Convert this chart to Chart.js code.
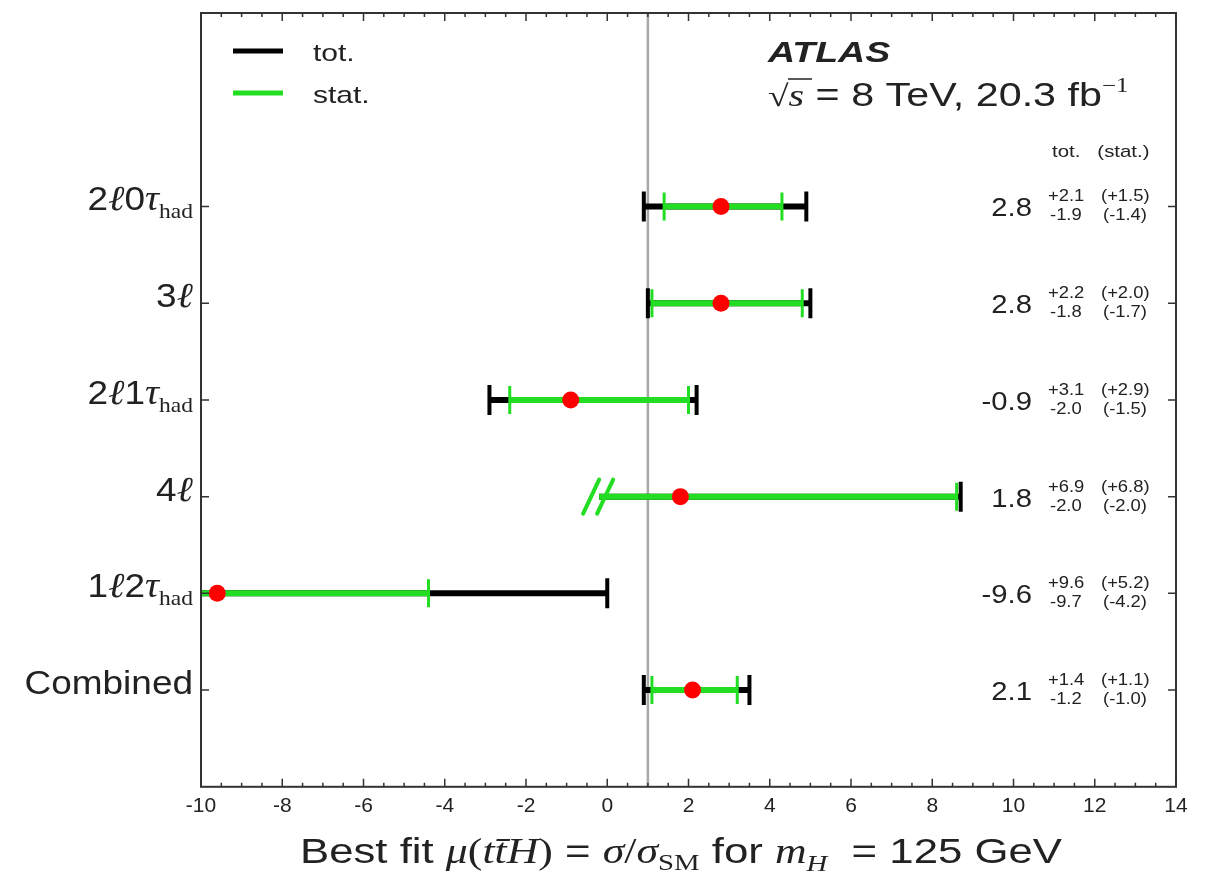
<!DOCTYPE html>
<html>
<head>
<meta charset="utf-8">
<script src="https://cdn.jsdelivr.net/npm/chart.js@4.4.0/dist/chart.umd.min.js"></script>
<style>
  html,body{margin:0;padding:0;background:#fff;}
</style>
</head>
<body>
<canvas id="c" width="1208" height="878"></canvas>
<script>
// --- data ---
const channels  = ['2l0tau', '3l', '2l1tau', '4l', '1l2tau', 'Combined'];
const central   = [2.8, 2.8, -0.9, 1.8, -9.6, 2.1];
const totUp     = [2.1, 2.2, 3.1, 6.9, 9.6, 1.4];
const totDn     = [1.9, 1.8, 2.0, 2.0, 9.7, 1.2];
const statUp    = [1.5, 2.0, 2.9, 6.8, 5.2, 1.1];
const statDn    = [1.4, 1.7, 1.5, 2.0, 4.2, 1.0];
const brokenLow = [false, false, false, true, false, false];
const rowPos    = [5, 4, 3, 2, 1, 0];
const smLine    = 1;

// --- styling ---
const GREEN = '#22dd22';
const SANS = 'Liberation Sans';
const SERIF = 'Liberation Serif';
const SX = 1.25; // the figure's text is stretched horizontally

// labels (rich text pieces: text, font, dy)
const F = 33;
const rowLabels = [
  [['2', `${F}px ${SANS}`], ['ℓ', `italic ${F+2}px ${SERIF}`], ['0', `${F}px ${SANS}`], ['τ', `italic ${F+2}px ${SERIF}`], ['had', `21px ${SERIF}`, 8]],
  [['3', `${F}px ${SANS}`], ['ℓ', `italic ${F+2}px ${SERIF}`]],
  [['2', `${F}px ${SANS}`], ['ℓ', `italic ${F+2}px ${SERIF}`], ['1', `${F}px ${SANS}`], ['τ', `italic ${F+2}px ${SERIF}`], ['had', `21px ${SERIF}`, 8]],
  [['4', `${F}px ${SANS}`], ['ℓ', `italic ${F+2}px ${SERIF}`]],
  [['1', `${F}px ${SANS}`], ['ℓ', `italic ${F+2}px ${SERIF}`], ['2', `${F}px ${SANS}`], ['τ', `italic ${F+2}px ${SERIF}`], ['had', `21px ${SERIF}`, 8]],
  [['Combined', `${F}px ${SANS}`]]
];

function richText(ctx, segs, x, y, align, sx){
  ctx.save();
  ctx.translate(x, y);
  ctx.scale(sx || 1, 1);
  ctx.textBaseline = 'alphabetic';
  ctx.textAlign = 'left';
  let w = 0;
  segs.forEach(s=>{ ctx.font = s[1]; w += ctx.measureText(s[0]).width; });
  let cx = align==='right' ? -w : (align==='center' ? -w/2 : 0);
  segs.forEach(s=>{
    ctx.font = s[1];
    ctx.fillText(s[0], cx, s[2] || 0);
    cx += ctx.measureText(s[0]).width;
  });
  ctx.restore();
}

function fmt(v){ return v.toFixed(1); }

const figPlugin = {
  id: 'fig',
  beforeDatasetsDraw(chart){
    const {ctx, chartArea:a, scales:{x, y}} = chart;
    ctx.save();
    // SM reference line
    const xs = x.getPixelForValue(smLine);
    ctx.strokeStyle = '#a8a8a8';
    ctx.lineWidth = 2.5;
    ctx.beginPath(); ctx.moveTo(xs, a.top); ctx.lineTo(xs, a.bottom); ctx.stroke();

    ctx.beginPath(); ctx.rect(a.left, a.top, a.right-a.left, a.bottom-a.top); ctx.clip();
    central.forEach((c, i)=>{
      const py = y.getPixelForValue(rowPos[i]);
      const tl = x.getPixelForValue(c - totDn[i]), tr = x.getPixelForValue(c + totUp[i]);
      const sl = x.getPixelForValue(c - statDn[i]), sr = x.getPixelForValue(c + statUp[i]);
      ctx.lineCap = 'butt';
      // total
      ctx.strokeStyle = '#000'; ctx.lineWidth = 6;
      ctx.beginPath(); ctx.moveTo(tl, py); ctx.lineTo(tr, py); ctx.stroke();
      // stat
      ctx.strokeStyle = GREEN; ctx.lineWidth = 6;
      ctx.beginPath(); ctx.moveTo(sl, py); ctx.lineTo(sr, py); ctx.stroke();
      // caps
      const cap = (px, col, w, h)=>{
        ctx.strokeStyle = col; ctx.lineWidth = w;
        ctx.beginPath(); ctx.moveTo(px, py-h); ctx.lineTo(px, py+h); ctx.stroke();
      };
      if(!brokenLow[i]){ cap(tl, '#000', 4, 15); }
      cap(tr, '#000', 4, 15);
      if(!brokenLow[i]){ cap(sl, GREEN, 3, 14); }
      cap(sr, GREEN, 3, 14);
      if(brokenLow[i]){
        ctx.strokeStyle = GREEN; ctx.lineWidth = 4; ctx.lineCap = 'round';
        [-8, 6].forEach(o=>{
          ctx.beginPath(); ctx.moveTo(sl+o-8, py+17); ctx.lineTo(sl+o+8, py-17); ctx.stroke();
        });
      }
    });
    ctx.restore();
  },
  afterDraw(chart){
    const {ctx, chartArea:a, scales:{x, y}} = chart;
    ctx.save();
    // frame
    ctx.strokeStyle = '#333'; ctx.lineWidth = 2;
    ctx.strokeRect(a.left, a.top, a.right-a.left, a.bottom-a.top);
    // x ticks (major every 2, minor every 0.5), top and bottom, inward
    ctx.lineWidth = 1.5;
    for(let v = x.min; v <= x.max + 1e-9; v += 0.5){
      const px = x.getPixelForValue(v);
      const len = (Math.abs(v % 2) < 1e-9) ? 8 : 4;
      ctx.beginPath();
      ctx.moveTo(px, a.bottom); ctx.lineTo(px, a.bottom-len);
      ctx.moveTo(px, a.top); ctx.lineTo(px, a.top+len);
      ctx.stroke();
    }
    // y ticks at each channel, left and right
    rowPos.forEach(r=>{
      const py = y.getPixelForValue(r);
      ctx.beginPath();
      ctx.moveTo(a.left, py); ctx.lineTo(a.left+8, py);
      ctx.moveTo(a.right, py); ctx.lineTo(a.right-8, py);
      ctx.stroke();
    });

    ctx.fillStyle = '#222';
    // row labels
    rowLabels.forEach((segs, i)=>{
      richText(ctx, segs, a.left-8, y.getPixelForValue(rowPos[i]) + 4, 'right', 1.12);
    });

    // numbers on the right
    central.forEach((c, i)=>{
      const py = y.getPixelForValue(rowPos[i]);
      richText(ctx, [[fmt(c), `25px ${SANS}`]], 1032, py + 10, 'right', 1.17);
      richText(ctx, [['+' + fmt(totUp[i]), `16px ${SANS}`]], 1048, py - 5, 'left', 1.15);
      richText(ctx, [['-' + fmt(totDn[i]), `16px ${SANS}`]], 1050, py + 14, 'left', 1.15);
      richText(ctx, [['(+' + fmt(statUp[i]) + ')', `16px ${SANS}`]], 1101, py - 5, 'left', 1.15);
      richText(ctx, [['(-' + fmt(statDn[i]) + ')', `16px ${SANS}`]], 1103, py + 14, 'left', 1.15);
    });
    richText(ctx, [['tot.   (stat.)', `17px ${SANS}`]], 1052, 157, 'left', 1.2);

    // legend
    ctx.lineWidth = 5;
    ctx.strokeStyle = '#000';
    ctx.beginPath(); ctx.moveTo(233, 51); ctx.lineTo(283, 51); ctx.stroke();
    ctx.strokeStyle = GREEN;
    ctx.beginPath(); ctx.moveTo(233, 93); ctx.lineTo(283, 93); ctx.stroke();
    richText(ctx, [['tot.', `24px ${SANS}`]], 313, 61, 'left', SX);
    richText(ctx, [['stat.', `24px ${SANS}`]], 313, 103, 'left', SX);

    // ATLAS label
    richText(ctx, [['ATLAS', `bold italic 30px ${SANS}`]], 768, 62, 'left', SX);
    richText(ctx, [['√', `30px ${SERIF}`], ['s', `italic 32px ${SERIF}`], [' = 8 TeV, 20.3 fb', `33px ${SANS}`], ['−1', `20px ${SERIF}`, -14]], 768, 106, 'left', SX);
    // radical bar over s
    ctx.strokeStyle = '#222'; ctx.lineWidth = 1.5;
    ctx.beginPath(); ctx.moveTo(788, 79); ctx.lineTo(812, 79); ctx.stroke();

    // x-axis title
    const T = 35, t = 23;
    richText(ctx, [
      ['Best fit ', `${T}px ${SANS}`], ['μ', `italic ${T}px ${SERIF}`], ['(', `${T}px ${SERIF}`],
      ['t', `italic ${T}px ${SERIF}`], ['t\u0304', `italic ${T}px ${SERIF}`], ['H', `italic ${T}px ${SERIF}`], [')', `${T}px ${SERIF}`],
      [' = ', `${T}px ${SANS}`], ['σ', `italic ${T}px ${SERIF}`], ['/', `${T}px ${SERIF}`], ['σ', `italic ${T}px ${SERIF}`],
      ['SM', `${t}px ${SERIF}`, 7], [' for ', `${T}px ${SANS}`], ['m', `italic ${T}px ${SERIF}`], ['H', `italic ${t}px ${SERIF}`, 8],
      ['  = 125 GeV', `${T}px ${SANS}`]
    ], 681, 863, 'center', SX);
    ctx.restore();
  }
};

new Chart(document.getElementById('c').getContext('2d'), {
  type: 'scatter',
  data: {
    datasets: [{
      data: central.map((v, i)=>({x: v, y: rowPos[i]})),
      pointRadius: 8.5,
      pointHoverRadius: 8.5,
      pointBackgroundColor: '#ff0000',
      pointBorderWidth: 0
    }]
  },
  options: {
    responsive: false,
    animation: false,
    events: [],
    layout: {padding: {left: 201, right: 32, top: 13, bottom: 52}},
    plugins: {legend: {display: false}, tooltip: {enabled: false}},
    scales: {
      x: {
        type: 'linear', min: -10, max: 14,
        ticks: {stepSize: 2, color: '#222', padding: 7, font: {family: SANS, size: 21}, maxRotation: 0},
        grid: {display: false, drawTicks: false},
        border: {display: false}
      },
      y: {type: 'linear', min: -1, max: 7, display: false}
    }
  },
  plugins: [figPlugin]
});
</script>
</body>
</html>
